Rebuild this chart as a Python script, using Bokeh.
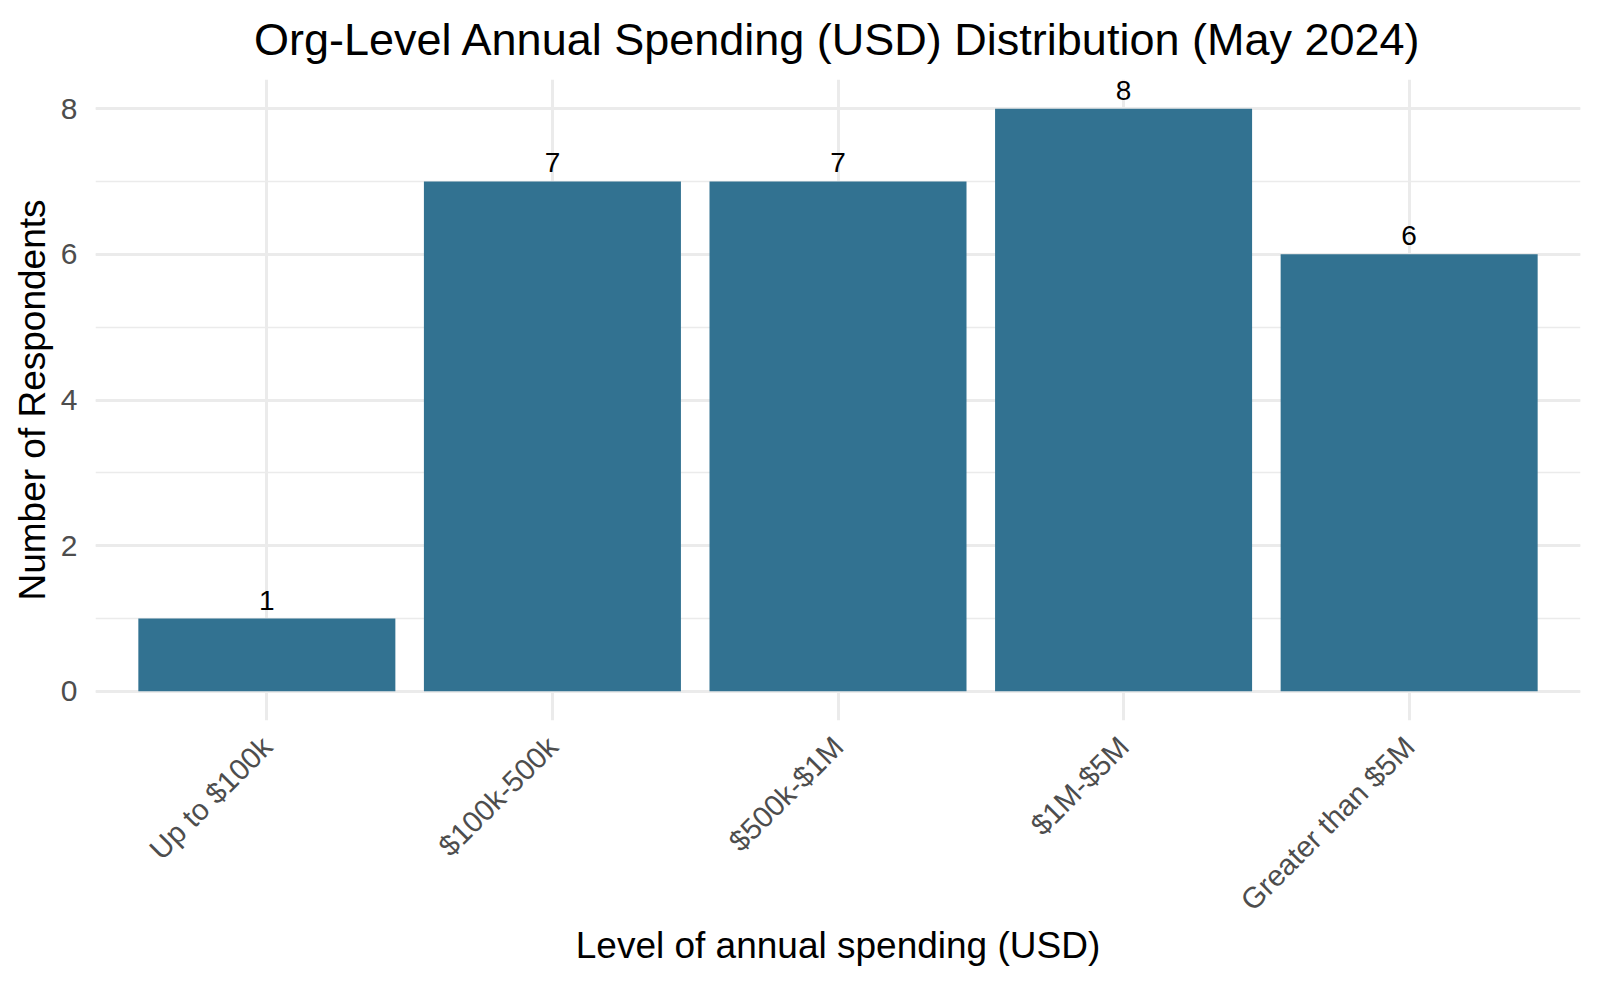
from math import pi
from bokeh.plotting import figure
from bokeh.models import ColumnDataSource, Range1d, FactorRange, SingleIntervalTicker, Title, LabelSet
from bokeh.core.properties import value
from bokeh.embed import file_html
from bokeh.resources import INLINE

categories = ["Up to $100k", "$100k-500k", "$500k-$1M", "$1M-$5M", "Greater than $5M"]
counts = [1, 7, 7, 8, 6]
labels = [str(c) for c in counts]

FONT = "Liberation Sans"
BAR = "#327291"

src = ColumnDataSource(dict(cat=categories, n=counts, lab=labels))

p = figure(
    x_range=FactorRange(*categories, range_padding=0.1, range_padding_units="absolute"),
    y_range=Range1d(-0.4, 8.4),
    width=1600, height=984,
    output_backend="svg", toolbar_location=None,
    min_border_left=95, min_border_right=20, min_border_top=79, min_border_bottom=264,
)
p.outline_line_color = None
p.background_fill_color = "white"
p.border_fill_color = "white"

p.vbar(x="cat", top="n", bottom=0, width=0.9, source=src, fill_color=BAR, line_color=None)

p.add_layout(LabelSet(x="cat", y="n", text="lab", source=src, text_align="center",
                      text_baseline="bottom", y_offset=9, text_font=value(FONT),
                      text_font_size="28px", text_color="black"))

# title
t = Title(text="Org-Level Annual Spending (USD) Distribution (May 2024)", align="center",
          vertical_align="top", text_font=FONT, text_font_size="45px",
          text_font_style="normal", text_color="black", standoff=25)
p.add_layout(t, "above")

# axes
p.yaxis.ticker = SingleIntervalTicker(interval=2, num_minor_ticks=2)
for ax in (p.xaxis[0], p.yaxis[0]):
    ax.axis_line_color = None
    ax.major_tick_line_color = None
    ax.minor_tick_line_color = None
    ax.major_label_text_font = FONT
    ax.major_label_text_color = "#4D4D4D"
    ax.axis_label_text_font = FONT
    ax.axis_label_text_font_size = "37px"
    ax.axis_label_text_font_style = "normal"
    ax.axis_label_text_color = "black"

p.yaxis.major_label_text_font_size = "30px"
p.xaxis.major_label_text_font_size = "29.5px"
p.yaxis.axis_label = "Number of Respondents"
p.yaxis.major_label_standoff = 12
p.yaxis.axis_label_standoff = 5
p.xaxis.axis_label = "Level of annual spending (USD)"
p.xaxis.major_label_orientation = pi / 4
p.xaxis.major_label_standoff = 15
p.xaxis.axis_label_standoff = -6

# grid
p.ygrid.grid_line_color = "#EBEBEB"
p.ygrid.grid_line_width = 3
p.ygrid.minor_grid_line_color = "#EBEBEB"
p.ygrid.minor_grid_line_width = 1.5
p.xgrid.grid_line_color = "#EBEBEB"
p.xgrid.grid_line_width = 3

open("out.html", "w").write(file_html(p, INLINE))
